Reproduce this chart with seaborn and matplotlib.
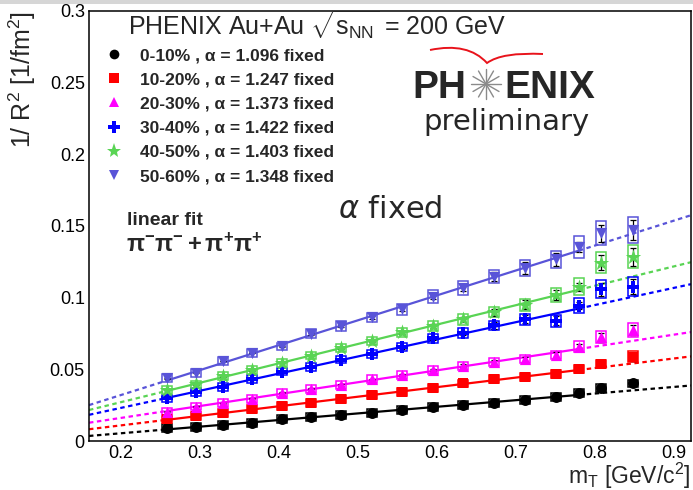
import numpy as np
import pandas as pd
import matplotlib
matplotlib.use("Agg")
import matplotlib.pyplot as plt
from matplotlib.lines import Line2D
from matplotlib.patches import Rectangle, PathPatch
from matplotlib.path import Path
from matplotlib.ticker import MultipleLocator, FuncFormatter
import seaborn as sns

# transverse mass bins [GeV/c^2]
mt = [0.259, 0.296, 0.330, 0.366, 0.404, 0.441, 0.479, 0.518, 0.556,
      0.595, 0.633, 0.673, 0.712, 0.751, 0.780, 0.808, 0.849]

centralities = ["0-10%", "10-20%", "20-30%", "30-40%", "40-50%", "50-60%"]
alphas = ["1.096", "1.247", "1.373", "1.422", "1.403", "1.348"]

# 1/R^2 [1/fm^2] per centrality class
inv_r2_0_10 = [0.0089, 0.0100, 0.0112, 0.0128, 0.0151, 0.0165, 0.0181, 0.0193, 0.0216,
               0.0235, 0.0251, 0.0267, 0.0286, 0.0309, 0.0337, 0.0368, 0.0402]
inv_r2_10_20 = [0.0151, 0.0174, 0.0193, 0.0221, 0.0244, 0.0267, 0.0291, 0.0321, 0.0344,
                0.0372, 0.0402, 0.0430, 0.0449, 0.0468, 0.0500, 0.0537, 0.0588]
inv_r2_20_30 = [0.0205, 0.0240, 0.0263, 0.0295, 0.0337, 0.0365, 0.0391, 0.0430, 0.0461,
                0.0495, 0.0525, 0.0553, 0.0570, 0.0600, 0.0658, 0.0724, 0.0775]
inv_r2_30_40 = [0.0297, 0.0343, 0.0379, 0.0430, 0.0484, 0.0516, 0.0568, 0.0607, 0.0654,
                0.0717, 0.0756, 0.0807, 0.0849, 0.0839, 0.0945, 0.1059, 0.1077]
inv_r2_40_50 = [0.0356, 0.0395, 0.0452, 0.0495, 0.0546, 0.0596, 0.0649, 0.0698, 0.0757,
                0.0804, 0.0849, 0.0898, 0.0951, 0.1019, 0.1077, 0.1244, 0.1286]
inv_r2_50_60 = [0.0437, 0.0477, 0.0558, 0.0616, 0.0660, 0.0748, 0.0803, 0.0862, 0.0919,
                0.1005, 0.1066, 0.1147, 0.1209, 0.1268, 0.1356, 0.1449, 0.1472]

# relative systematic (boxes) and statistical (bars) uncertainties per mT bin
sys_rel = [0.050, 0.045, 0.040, 0.040, 0.040, 0.040, 0.040, 0.040, 0.040,
           0.045, 0.045, 0.040, 0.045, 0.048, 0.056, 0.058, 0.063]
stat_rel = [0.006, 0.006, 0.006, 0.007, 0.008, 0.009, 0.010, 0.012, 0.014,
            0.016, 0.018, 0.028, 0.034, 0.036, 0.026, 0.042, 0.048]

n_fit = 15  # points entering the linear fit

series = [inv_r2_0_10, inv_r2_10_20, inv_r2_20_30, inv_r2_30_40, inv_r2_40_50, inv_r2_50_60]
colors = ["#000000", "#ff0000", "#ff00ff", "#0000ff", "#59d454", "#5954d8"]
markers = ["o", "s", "^", "P", "*", "v"]
msizes = [62, 60, 65, 80, 135, 65]
leg_msizes = [7, 7, 7.5, 8, 11, 7.5]

sns.set_style("white")
plt.rcParams.update({
    "font.family": ["Liberation Sans", "DejaVu Sans"],
    "mathtext.fontset": "custom",
    "mathtext.rm": "Liberation Sans",
    "mathtext.it": "Liberation Sans:italic",
    "mathtext.bf": "Liberation Sans:bold",
    "axes.edgecolor": "black",
    "axes.linewidth": 1.1,
})

W, H = 693, 490
fig = plt.figure(figsize=(W / 100, H / 100), dpi=100)
fig.patch.set_facecolor("white")
ax = fig.add_axes([89 / W, 49 / H, 602 / W, 430 / H])

xlim = (0.16, 0.922)
ax.set_xlim(*xlim)
ax.set_ylim(0, 0.3)

df = pd.DataFrame({
    "mT": np.tile(mt, len(series)),
    "inv_r2": np.concatenate(series),
    "cent": np.repeat(centralities, len(mt)),
})

box_hw = 0.0063
for i, cent in enumerate(centralities):
    c = colors[i]
    sub = df[df["cent"] == cent]
    x = sub["mT"].to_numpy()
    y = sub["inv_r2"].to_numpy()

    # linear fit: solid inside fit range, dashed extrapolation
    slope, icpt = np.polyfit(x[:n_fit], y[:n_fit], 1)
    xs = np.array([x[0], x[n_fit - 1]])
    ax.plot(xs, icpt + slope * xs, color=c, lw=1.6, zorder=2)
    for seg in ([xlim[0], x[0]], [x[n_fit - 1], xlim[1]]):
        seg = np.array(seg)
        ax.plot(seg, icpt + slope * seg, color=c, lw=1.6,
                ls=(0, (2.0, 1.6)), zorder=2)

    # systematic boxes
    half = np.maximum(y * np.array(sys_rel), 0.0027)
    for xi, yi, hi in zip(x, y, half):
        ax.add_patch(Rectangle((xi - box_hw, yi - hi), 2 * box_hw, 2 * hi,
                               fill=False, ec=c, lw=1.1, zorder=3))
    # statistical errors
    ax.errorbar(x, y, yerr=y * np.array(stat_rel), fmt="none", ecolor="black",
                elinewidth=0.9, capsize=2.2, capthick=0.9, zorder=4)

    sns.scatterplot(data=sub, x="mT", y="inv_r2", color=c, marker=markers[i],
                    s=msizes[i], linewidth=0, ax=ax, zorder=5, legend=False)

# axes styling
ax.xaxis.set_major_locator(MultipleLocator(0.1))
ax.xaxis.set_minor_locator(MultipleLocator(0.02))
ax.yaxis.set_major_locator(MultipleLocator(0.05))
ax.yaxis.set_minor_locator(MultipleLocator(0.01))
fmt = FuncFormatter(lambda v, p: f"{v:g}")
ax.xaxis.set_major_formatter(fmt)
ax.yaxis.set_major_formatter(fmt)
ax.tick_params(axis="both", which="both", direction="in", top=False, right=False,
               labelsize=13, colors="black", width=1.0)
ax.tick_params(axis="x", which="major", length=9.5, pad=3)
ax.tick_params(axis="x", which="minor", length=4.8)
ax.tick_params(axis="y", which="major", length=13, pad=3)
ax.tick_params(axis="y", which="minor", length=6.5)
for sp in ax.spines.values():
    sp.set_visible(True)
    sp.set_color("black")

ax.set_xlabel(r"m$_{\mathrm{T}}$ [GeV/c$^{2}$]", fontsize=16.5, loc="right")
ax.xaxis.set_label_coords(1.0, -0.046)
ax.set_ylabel(r"1/ R$^{2}$ [1/fm$^{2}$]", fontsize=18, loc="top")
ax.yaxis.set_label_coords(-0.085, 1.0)

# legend
handles = [Line2D([], [], ls="none", marker=markers[i], color=colors[i],
                  markersize=leg_msizes[i], markeredgewidth=0)
           for i in range(len(centralities))]
labels = [f"{c} , α = {a} fixed" for c, a in zip(centralities, alphas)]
ax.legend(handles, labels, loc="upper left", bbox_to_anchor=(105 / W, 1 - 48 / H),
          bbox_transform=fig.transFigure, frameon=False, borderpad=0, borderaxespad=0,
          handlelength=1.0, handletextpad=1.0, labelspacing=0.52,
          prop={"family": "Liberation Sans", "weight": "bold", "size": 12.5})

fig.text(128 / W, 1 - 36 / H, r"PHENIX Au+Au $\sqrt{\mathrm{s}_{\mathrm{NN}}}$ = 200 GeV",
         fontsize=18, va="baseline", ha="left")

fig.text(338 / W, 1 - 218 / H, r"$\alpha$ fixed", fontsize=22, va="baseline", ha="left",
         family="DejaVu Sans", math_fontfamily="dejavusans")

fig.text(127 / W, 1 - 225 / H, "linear fit", fontsize=14, weight="bold",
         va="baseline", ha="left")
fig.text(126 / W, 1 - 252 / H, r"$\mathbf{\pi^{-}\pi^{-}+\pi^{+}\pi^{+}}$", fontsize=17,
         va="baseline", ha="left")

# PHENIX logo
fig.text(466 / W, 1 - 98 / H, "PH", fontsize=28, weight="bold", ha="right", va="baseline")
fig.text(504 / W, 1 - 98 / H, "ENIX", fontsize=28, weight="bold", ha="left", va="baseline")
cx, cy, r = 486, 84, 15
for k in range(12):
    th = np.pi * k / 6
    fig.add_artist(Line2D([(cx) / W, (cx + r * np.cos(th)) / W],
                          [1 - cy / H, 1 - (cy + r * np.sin(th)) / H],
                          transform=fig.transFigure, color="#8a8a8a", lw=1.0))
arc = [(430, 50), (468, 42), (487, 63), (502, 52), (543, 54)]
verts = [(px / W, 1 - py / H) for px, py in arc]
fig.add_artist(PathPatch(Path(verts, [Path.MOVETO, Path.CURVE3, Path.CURVE3,
                                      Path.CURVE3, Path.CURVE3]),
                         transform=fig.transFigure, fill=False, ec="#e8131b", lw=1.4))
fig.text(506 / W, 1 - 130 / H, "preliminary", fontsize=21, family="DejaVu Sans",
         ha="center", va="baseline")

# thin grey band along the top edge
fig.add_artist(Rectangle((0, 1 - 4 / H), 1, 4 / H, transform=fig.transFigure,
                         color="#d6d6d6", lw=0))

fig.savefig("out.png", dpi=100)
